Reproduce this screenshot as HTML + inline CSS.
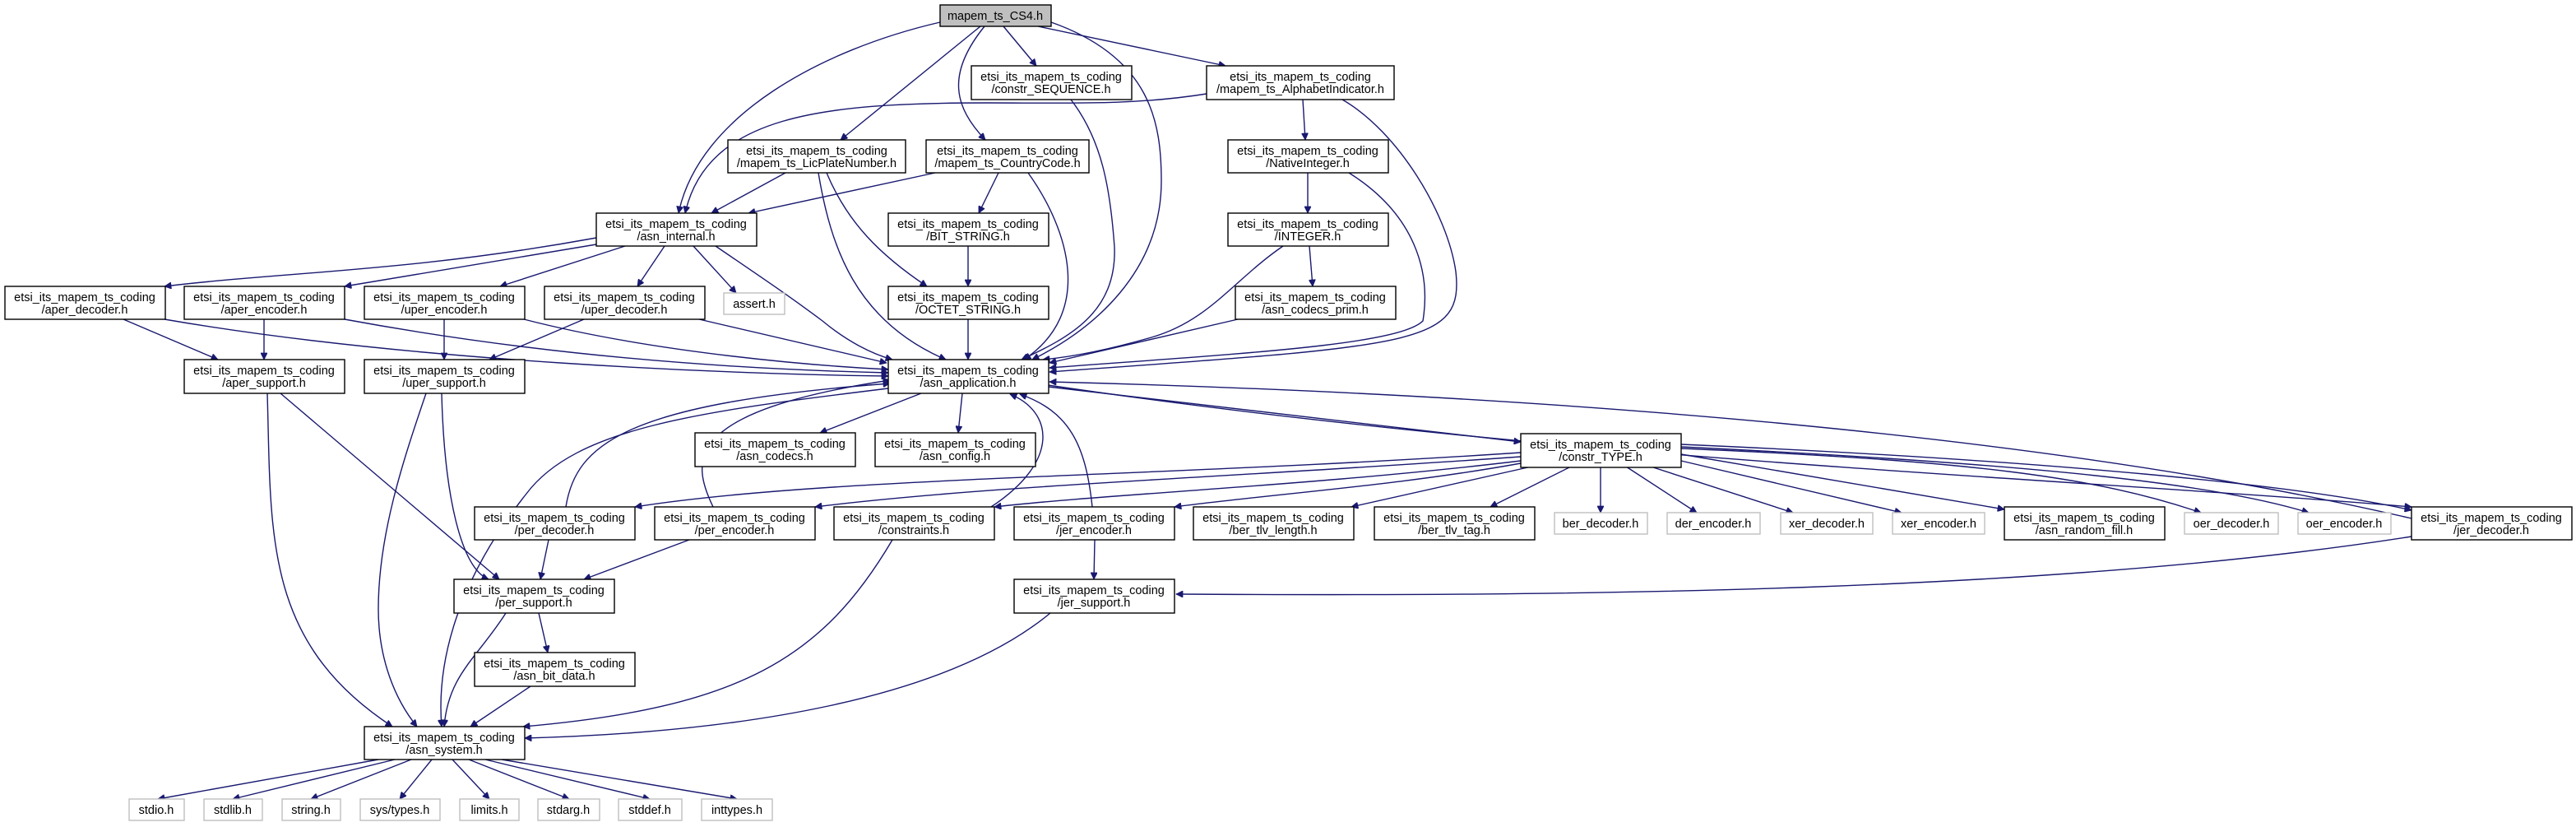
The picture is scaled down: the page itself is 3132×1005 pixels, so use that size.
<!DOCTYPE html>
<html><head><meta charset="utf-8"><style>
html,body{margin:0;padding:0;background:#fff;}
svg{display:block;}
text{font-family:"Liberation Sans","DejaVu Sans",sans-serif;font-size:14.5px;fill:#000;text-anchor:middle;}
.b{fill:#fff;stroke:#000;stroke-width:1.4;}
.g{fill:#fff;stroke:#bfbfbf;stroke-width:1.4;}
.e{fill:none;stroke:#191970;stroke-width:1.4;}
</style></head><body>
<svg width="3132" height="1005" viewBox="0 0 3132 1005" xmlns="http://www.w3.org/2000/svg">
<defs><marker id="a" viewBox="0 0 10 10" refX="10" refY="5" markerWidth="11" markerHeight="8" markerUnits="userSpaceOnUse" orient="auto"><path d="M0,0 L10,5 L0,10 z" fill="#191970" stroke="#191970"/></marker></defs>
<g class="e" marker-end="url(#a)">
<path d="M1143,27 C1000,60 850,140 825,259"/>
<path d="M1192,32 L1022,170"/>
<path d="M1197,32 C1150,90 1160,130 1198,170"/>
<path d="M1220,32 L1260,80"/>
<path d="M1262,32 L1490,80"/>
<path d="M1278,27 C1400,70 1412,150 1412,220 C1412,330 1330,400 1255,437"/>
<path d="M1467,114 C1380,128 1300,125 1200,125 C1000,125 860,140 833,259"/>
<path d="M1584,121 L1587,170"/>
<path d="M1632,121 C1700,160 1760,260 1770,330 C1780,420 1720,420 1276,452"/>
<path d="M1302,121 C1340,170 1350,230 1355,300 C1358,380 1300,410 1242,437"/>
<path d="M955,210 L865,259"/>
<path d="M995,210 C1010,300 1040,390 1150,437"/>
<path d="M1005,210 C1030,270 1070,310 1127,348"/>
<path d="M1137,210 L910,259"/>
<path d="M1214,210 L1190,259"/>
<path d="M1250,210 C1300,280 1330,380 1245,437"/>
<path d="M1590,210 L1590,259"/>
<path d="M1640,210 C1720,260 1740,330 1730,390 C1700,420 1500,430 1276,447"/>
<path d="M1592,299 L1596,348"/>
<path d="M1560,299 C1500,340 1470,390 1400,410 C1330,430 1290,435 1268,437"/>
<path d="M1505,388 L1276,441"/>
<path d="M1177,299 L1177,348"/>
<path d="M1177,388 L1177,437"/>
<path d="M725,289 C500,330 350,330 200,348"/>
<path d="M725,297 L419,348"/>
<path d="M760,299 L608,348"/>
<path d="M808,299 L775,348"/>
<path d="M843,299 L895,356"/>
<path d="M870,299 C930,340 960,360 1000,390 C1030,415 1060,430 1085,437"/>
<path d="M150,388 L265,437"/>
<path d="M200,388 C500,440 900,455 1080,457"/>
<path d="M321,388 L321,437"/>
<path d="M419,388 C700,440 950,450 1080,453"/>
<path d="M540,388 L540,437"/>
<path d="M637,388 C800,430 1000,445 1080,449"/>
<path d="M710,388 L595,437"/>
<path d="M850,388 L1078,441"/>
<path d="M325,478 C330,650 320,780 477,883"/>
<path d="M341,478 L607,704"/>
<path d="M518,478 C490,560 460,650 460,740 C460,800 480,850 507,883"/>
<path d="M537,478 C540,600 560,690 594,704"/>
<path d="M1120,478 L997,526"/>
<path d="M1170,478 L1165,526"/>
<path d="M1274,470 L1849,537"/>
<path d="M1274,468 C1900,560 2500,580 2932,616"/>
<path d="M1080,472 C850,500 700,520 640,600 C560,700 530,800 537,883"/>
<path d="M688,616 C700,540 760,490 1082,466"/>
<path d="M867,616 C840,560 830,500 1082,462"/>
<path d="M1205,616 C1290,560 1280,500 1228,479"/>
<path d="M1328,616 C1320,540 1300,500 1240,479"/>
<path d="M2932,630 C2500,530 1900,480 1276,464"/>
<path d="M1849,550 C1400,580 1000,580 772,616"/>
<path d="M1849,555 C1500,580 1200,590 991,616"/>
<path d="M1849,560 C1600,590 1350,600 1209,616"/>
<path d="M1849,563 C1700,590 1550,600 1428,616"/>
<path d="M1862,567 L1643,616"/>
<path d="M1910,567 L1812,616"/>
<path d="M1946,567 L1946,623"/>
<path d="M1977,567 L2063,623"/>
<path d="M2007,567 L2180,623"/>
<path d="M2044,560 L2312,623"/>
<path d="M2044,552 L2437,619"/>
<path d="M2044,545 C2400,560 2550,580 2676,623"/>
<path d="M2044,543 C2500,565 2700,590 2807,623"/>
<path d="M2044,540 C2500,560 2800,590 2932,620"/>
<path d="M667,656 L657,704"/>
<path d="M838,656 L710,704"/>
<path d="M655,745 L666,793"/>
<path d="M615,745 C580,800 545,820 540,883"/>
<path d="M645,834 L572,883"/>
<path d="M1085,656 C1000,800 900,860 636,883"/>
<path d="M1331,656 L1330,704"/>
<path d="M1277,745 C1150,850 900,890 638,897"/>
<path d="M2932,652 C2500,720 1900,725 1430,722"/>
<path d="M460,923 L192,971"/>
<path d="M480,923 L283,971"/>
<path d="M500,923 L378,971"/>
<path d="M525,923 L486,971"/>
<path d="M550,923 L595,971"/>
<path d="M570,923 L692,971"/>
<path d="M590,923 L790,971"/>
<path d="M610,923 L896,971"/>
</g>
<rect x="1143" y="6" width="135" height="26" fill="#bfbfbf" stroke="#000" stroke-width="1.4"/><text x="1210" y="24">mapem_ts_CS4.h</text>
<g>
<rect class="b" x="1181" y="80" width="195" height="41"/><text x="1278" y="98">etsi_its_mapem_ts_coding</text><text x="1278" y="113">/constr_SEQUENCE.h</text>
<rect class="b" x="1467" y="80" width="228" height="41"/><text x="1581" y="98">etsi_its_mapem_ts_coding</text><text x="1581" y="113">/mapem_ts_AlphabetIndicator.h</text>
<rect class="b" x="885" y="170" width="216" height="40"/><text x="993" y="188">etsi_its_mapem_ts_coding</text><text x="993" y="203">/mapem_ts_LicPlateNumber.h</text>
<rect class="b" x="1126" y="170" width="198" height="40"/><text x="1225" y="188">etsi_its_mapem_ts_coding</text><text x="1225" y="203">/mapem_ts_CountryCode.h</text>
<rect class="b" x="1493" y="170" width="195" height="40"/><text x="1590" y="188">etsi_its_mapem_ts_coding</text><text x="1590" y="203">/NativeInteger.h</text>
<rect class="b" x="725" y="259" width="195" height="40"/><text x="822" y="277">etsi_its_mapem_ts_coding</text><text x="822" y="292">/asn_internal.h</text>
<rect class="b" x="1080" y="259" width="195" height="40"/><text x="1177" y="277">etsi_its_mapem_ts_coding</text><text x="1177" y="292">/BIT_STRING.h</text>
<rect class="b" x="1493" y="259" width="195" height="40"/><text x="1590" y="277">etsi_its_mapem_ts_coding</text><text x="1590" y="292">/INTEGER.h</text>
<rect class="b" x="6" y="348" width="195" height="40"/><text x="103" y="366">etsi_its_mapem_ts_coding</text><text x="103" y="381">/aper_decoder.h</text>
<rect class="b" x="224" y="348" width="195" height="40"/><text x="321" y="366">etsi_its_mapem_ts_coding</text><text x="321" y="381">/aper_encoder.h</text>
<rect class="b" x="443" y="348" width="195" height="40"/><text x="540" y="366">etsi_its_mapem_ts_coding</text><text x="540" y="381">/uper_encoder.h</text>
<rect class="b" x="662" y="348" width="195" height="40"/><text x="759" y="366">etsi_its_mapem_ts_coding</text><text x="759" y="381">/uper_decoder.h</text>
<rect class="g" x="880" y="356" width="74" height="26"/><text x="917" y="374">assert.h</text>
<rect class="b" x="1080" y="348" width="195" height="40"/><text x="1177" y="366">etsi_its_mapem_ts_coding</text><text x="1177" y="381">/OCTET_STRING.h</text>
<rect class="b" x="1502" y="348" width="195" height="40"/><text x="1599" y="366">etsi_its_mapem_ts_coding</text><text x="1599" y="381">/asn_codecs_prim.h</text>
<rect class="b" x="224" y="437" width="195" height="41"/><text x="321" y="455">etsi_its_mapem_ts_coding</text><text x="321" y="470">/aper_support.h</text>
<rect class="b" x="443" y="437" width="195" height="41"/><text x="540" y="455">etsi_its_mapem_ts_coding</text><text x="540" y="470">/uper_support.h</text>
<rect class="b" x="1080" y="437" width="195" height="41"/><text x="1177" y="455">etsi_its_mapem_ts_coding</text><text x="1177" y="470">/asn_application.h</text>
<rect class="b" x="845" y="526" width="195" height="41"/><text x="942" y="544">etsi_its_mapem_ts_coding</text><text x="942" y="559">/asn_codecs.h</text>
<rect class="b" x="1064" y="526" width="195" height="41"/><text x="1161" y="544">etsi_its_mapem_ts_coding</text><text x="1161" y="559">/asn_config.h</text>
<rect class="b" x="1849" y="527" width="195" height="41"/><text x="1946" y="545">etsi_its_mapem_ts_coding</text><text x="1946" y="560">/constr_TYPE.h</text>
<rect class="b" x="577" y="616" width="195" height="40"/><text x="674" y="634">etsi_its_mapem_ts_coding</text><text x="674" y="649">/per_decoder.h</text>
<rect class="b" x="796" y="616" width="195" height="40"/><text x="893" y="634">etsi_its_mapem_ts_coding</text><text x="893" y="649">/per_encoder.h</text>
<rect class="b" x="1014" y="616" width="195" height="40"/><text x="1111" y="634">etsi_its_mapem_ts_coding</text><text x="1111" y="649">/constraints.h</text>
<rect class="b" x="1233" y="616" width="195" height="40"/><text x="1330" y="634">etsi_its_mapem_ts_coding</text><text x="1330" y="649">/jer_encoder.h</text>
<rect class="b" x="1451" y="616" width="195" height="40"/><text x="1548" y="634">etsi_its_mapem_ts_coding</text><text x="1548" y="649">/ber_tlv_length.h</text>
<rect class="b" x="1671" y="616" width="195" height="40"/><text x="1768" y="634">etsi_its_mapem_ts_coding</text><text x="1768" y="649">/ber_tlv_tag.h</text>
<rect class="g" x="1890" y="623" width="113" height="26"/><text x="1946" y="641">ber_decoder.h</text>
<rect class="g" x="2027" y="623" width="113" height="26"/><text x="2083" y="641">der_encoder.h</text>
<rect class="g" x="2165" y="623" width="112" height="26"/><text x="2221" y="641">xer_decoder.h</text>
<rect class="g" x="2301" y="623" width="112" height="26"/><text x="2357" y="641">xer_encoder.h</text>
<rect class="b" x="2437" y="616" width="195" height="40"/><text x="2534" y="634">etsi_its_mapem_ts_coding</text><text x="2534" y="649">/asn_random_fill.h</text>
<rect class="g" x="2656" y="623" width="114" height="26"/><text x="2713" y="641">oer_decoder.h</text>
<rect class="g" x="2794" y="623" width="113" height="26"/><text x="2850" y="641">oer_encoder.h</text>
<rect class="b" x="2932" y="616" width="195" height="40"/><text x="3029" y="634">etsi_its_mapem_ts_coding</text><text x="3029" y="649">/jer_decoder.h</text>
<rect class="b" x="552" y="704" width="195" height="41"/><text x="649" y="722">etsi_its_mapem_ts_coding</text><text x="649" y="737">/per_support.h</text>
<rect class="b" x="1233" y="704" width="195" height="41"/><text x="1330" y="722">etsi_its_mapem_ts_coding</text><text x="1330" y="737">/jer_support.h</text>
<rect class="b" x="577" y="793" width="195" height="41"/><text x="674" y="811">etsi_its_mapem_ts_coding</text><text x="674" y="826">/asn_bit_data.h</text>
<rect class="b" x="443" y="883" width="195" height="40"/><text x="540" y="901">etsi_its_mapem_ts_coding</text><text x="540" y="916">/asn_system.h</text>
<rect class="g" x="157" y="971" width="67" height="26"/><text x="190" y="989">stdio.h</text>
<rect class="g" x="248" y="971" width="71" height="26"/><text x="283" y="989">stdlib.h</text>
<rect class="g" x="343" y="971" width="71" height="26"/><text x="378" y="989">string.h</text>
<rect class="g" x="438" y="971" width="97" height="26"/><text x="486" y="989">sys/types.h</text>
<rect class="g" x="559" y="971" width="72" height="26"/><text x="595" y="989">limits.h</text>
<rect class="g" x="654" y="971" width="75" height="26"/><text x="691" y="989">stdarg.h</text>
<rect class="g" x="752" y="971" width="77" height="26"/><text x="790" y="989">stddef.h</text>
<rect class="g" x="853" y="971" width="86" height="26"/><text x="896" y="989">inttypes.h</text>
</g>
</svg>
</body></html>
